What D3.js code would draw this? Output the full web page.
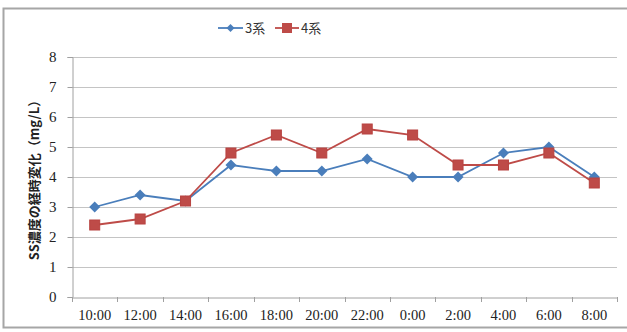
<!DOCTYPE html>
<html>
<head>
<meta charset="utf-8">
<script src="https://cdn.jsdelivr.net/npm/d3@7"></script>
<style>
  html, body { margin: 0; padding: 0; background: #fff; }
  svg { display: block; }
</style>
</head>
<body>
<svg id="chart" width="627" height="332"></svg>
<script>
// Time of day along the x axis
const categories = ["10:00","12:00","14:00","16:00","18:00","20:00","22:00","0:00","2:00","4:00","6:00","8:00"];
// SS concentration (mg/L) per line
const series3 = [3.0, 3.4, 3.2, 4.4, 4.2, 4.2, 4.6, 4.0, 4.0, 4.8, 5.0, 4.0];
const series4 = [2.4, 2.6, 3.2, 4.8, 5.4, 4.8, 5.6, 5.4, 4.4, 4.4, 4.8, 3.8];
const seriesNames = ["3系", "4系"];
const yTicks = [0, 1, 2, 3, 4, 5, 6, 7, 8];

const svg = d3.select("#chart");
const W = 627, H = 332;
const m = { left: 72, right: 10, top: 57, bottom: 35 };
const serif = '"Times New Roman", "Liberation Serif", "DejaVu Serif", serif';

// outer chart frame
svg.append("rect")
  .attr("x", 3.5).attr("y", 8.5)
  .attr("width", W + 10).attr("height", 319)
  .attr("fill", "#fff").attr("stroke", "#a6a6a6").attr("stroke-width", 2);

const x = d3.scaleBand().domain(categories).range([m.left, W - m.right]);
const y = d3.scaleLinear().domain([0, 8]).range([H - m.bottom, m.top]);

// horizontal gridlines
svg.append("g").selectAll("line").data(yTicks.filter(d => d > 0)).join("line")
  .attr("x1", m.left).attr("x2", W - m.right)
  .attr("y1", d => Math.round(y(d)) + 0.5).attr("y2", d => Math.round(y(d)) + 0.5)
  .attr("stroke", "#c4c4c4").attr("stroke-width", 1);

// y axis
const yAxis = svg.append("g")
  .attr("transform", `translate(${m.left + 0.5},0)`)
  .call(d3.axisLeft(y).tickValues(yTicks).tickSize(5).tickFormat(d3.format("d")));
yAxis.select(".domain").attr("stroke", "#a0a0a0");
yAxis.selectAll(".tick line").attr("stroke", "#a0a0a0");
yAxis.selectAll(".tick text")
  .attr("x", -16)
  .style("font-family", serif)
  .style("font-size", "15px").attr("fill", "#222");

// x axis
const xAxis = svg.append("g")
  .attr("transform", `translate(0,${Math.round(y(0)) + 0.5})`)
  .call(d3.axisBottom(x).tickSize(0).tickPadding(12));
xAxis.select(".domain").attr("stroke", "#a0a0a0");
xAxis.selectAll(".tick text")
  .style("font-family", serif)
  .style("font-size", "14.5px").attr("fill", "#222");
// boundary tick marks between categories
svg.append("g").selectAll("line").data(d3.range(categories.length + 1)).join("line")
  .attr("x1", i => Math.round(m.left + i * x.step()) + 0.5)
  .attr("x2", i => Math.round(m.left + i * x.step()) + 0.5)
  .attr("y1", Math.round(y(0))).attr("y2", Math.round(y(0)) + 5)
  .attr("stroke", "#a0a0a0");

// y axis title
svg.append("text")
  .attr("transform", `translate(39,${(y(0) + y(8)) / 2}) rotate(-90)`)
  .attr("text-anchor", "middle")
  .attr("font-family", "'Noto Sans CJK JP', sans-serif")
  .attr("font-size", 13).attr("font-weight", "bold").attr("fill", "#222")
  .text("SS濃度の経時変化（mg/L）");

const cx = d => x(d) + x.bandwidth() / 2;
const colors = ["#4a7ebb", "#be4b48"];
const line = d3.line().x((d, i) => cx(categories[i])).y(d => y(d));

[series3, series4].forEach((vals, k) => {
  svg.append("path").datum(vals)
    .attr("d", line).attr("fill", "none")
    .attr("stroke", colors[k]).attr("stroke-width", 1.8);
});

// markers: diamonds for 3系, squares for 4系
const diamond = "M0,-5.5L5.5,0L0,5.5L-5.5,0Z";
svg.append("g").selectAll("path").data(series3).join("path")
  .attr("d", diamond)
  .attr("transform", (d, i) => `translate(${cx(categories[i])},${y(d)})`)
  .attr("fill", colors[0]);
svg.append("g").selectAll("rect").data(series4).join("rect")
  .attr("x", (d, i) => cx(categories[i]) - 5).attr("y", d => y(d) - 5)
  .attr("width", 10).attr("height", 10)
  .attr("fill", colors[1]).attr("stroke", "#b84340");

// legend
const lg = svg.append("g").attr("transform", "translate(218,28)");
const lfont = "'Noto Sans CJK JP', sans-serif";
lg.append("line").attr("x1", 0).attr("x2", 25).attr("stroke", colors[0]).attr("stroke-width", 1.8);
lg.append("path").attr("d", "M0,-4L4,0L0,4L-4,0Z").attr("transform", "translate(12.5,0)").attr("fill", colors[0]);
lg.append("text").attr("x", 27).attr("y", 5).attr("font-family", lfont).attr("font-size", 13).attr("fill", "#333").text(seriesNames[0]);
lg.append("line").attr("x1", 57).attr("x2", 81).attr("stroke", colors[1]).attr("stroke-width", 1.8);
lg.append("rect").attr("x", 64).attr("y", -5).attr("width", 10).attr("height", 10).attr("fill", colors[1]);
lg.append("text").attr("x", 83).attr("y", 5).attr("font-family", lfont).attr("font-size", 13).attr("fill", "#333").text(seriesNames[1]);
</script>
</body>
</html>
